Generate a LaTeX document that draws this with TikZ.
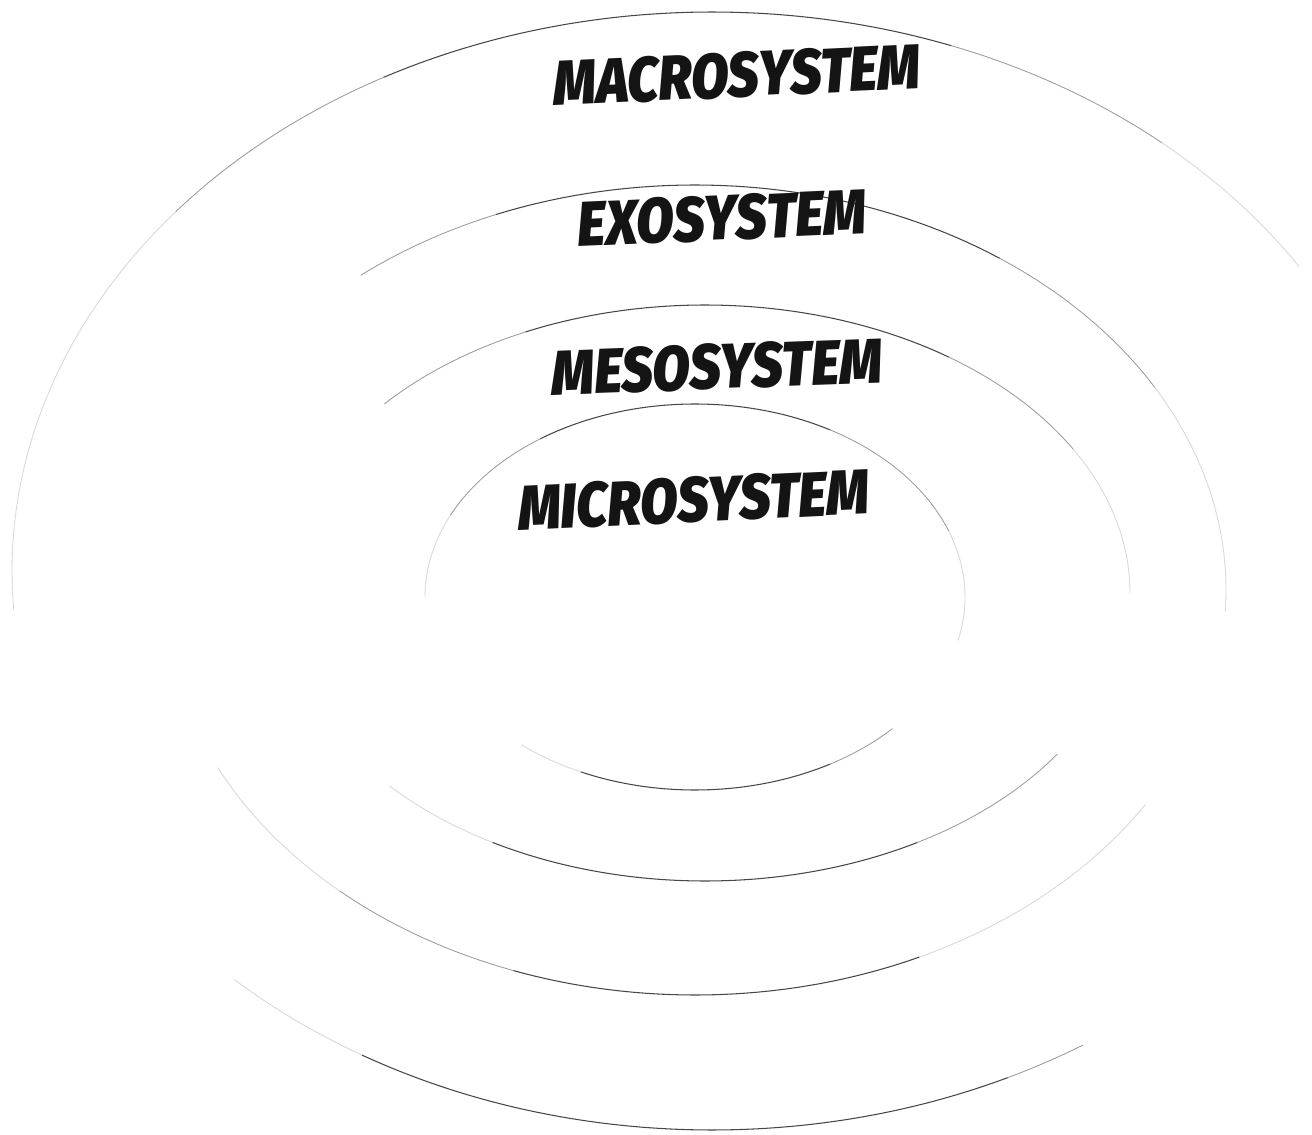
\documentclass[tikz,border=0pt]{standalone}
\usepackage{fontspec}
\newfontfamily\labfont{Fira Sans}[BoldItalicFont={Fira Sans Black Italic}]
\begin{document}
\begin{tikzpicture}[x=0.02cm,y=0.02cm,
  dk/.style={draw=black!72,line width=0.6pt},
  md/.style={draw=black!38,line width=0.5pt},
  lt/.style={draw=black!15,line width=0.5pt},
  lab/.style={font=\labfont\bfseries\itshape\fontsize{36}{40}\selectfont,xscale=0.86,inner sep=0pt,text=black!92}]
\fill[white] (0,0) rectangle (1312,1134);
\useasboundingbox (0,0) rectangle (1312,1134);
% helper: arc of ellipse centre (#1,#2) radii #3,#4 from #5 to #6 deg
\newcommand\ringarc[7]{\draw[#7] plot[smooth,variable=\t,domain=#5:#6,samples=40] ({#1+#3*cos(\t)},{#2+#4*sin(\t)});}
% MICRO  c(695,537) 270x193
\ringarc{695}{537}{270}{193}{-13}{20}{lt}
\ringarc{695}{537}{270}{193}{20}{60}{md}
\ringarc{695}{537}{270}{193}{60}{125}{dk}
\ringarc{695}{537}{270}{193}{125}{155}{md}
\ringarc{695}{537}{270}{193}{155}{180}{lt}
\ringarc{695}{537}{270}{193}{230}{245}{lt}
\ringarc{695}{537}{270}{193}{245}{300}{dk}
\ringarc{695}{537}{270}{193}{300}{317}{md}
% MESO c(705,541) 425x288
\ringarc{705}{541}{425}{288}{0}{30}{lt}
\ringarc{705}{541}{425}{288}{30}{55}{md}
\ringarc{705}{541}{425}{288}{55}{115}{dk}
\ringarc{705}{541}{425}{288}{115}{139}{md}
\ringarc{705}{541}{425}{288}{222}{240}{lt}
\ringarc{705}{541}{425}{288}{240}{300}{dk}
\ringarc{705}{541}{425}{288}{300}{326}{md}
% EXO c(695,544) 531x405
\ringarc{695}{544}{531}{405}{-3}{30}{lt}
\ringarc{695}{544}{531}{405}{30}{55}{md}
\ringarc{695}{544}{531}{405}{55}{112}{dk}
\ringarc{695}{544}{531}{405}{112}{129}{md}
\ringarc{695}{544}{531}{405}{206}{228}{lt}
\ringarc{695}{544}{531}{405}{228}{250}{md}
\ringarc{695}{544}{531}{405}{250}{295}{dk}
\ringarc{695}{544}{531}{405}{295}{328}{lt}
% MACRO c(712,563) 700x559
\ringarc{712}{563}{700}{559}{33}{50}{lt}
\ringarc{712}{563}{700}{559}{50}{70}{md}
\ringarc{712}{563}{700}{559}{70}{118}{dk}
\ringarc{712}{563}{700}{559}{118}{140}{md}
\ringarc{712}{563}{700}{559}{140}{184}{lt}
\ringarc{712}{563}{700}{559}{227}{240}{lt}
\ringarc{712}{563}{700}{559}{240}{295}{dk}
\ringarc{712}{563}{700}{559}{295}{302}{md}
% labels
\node[lab,rotate=2.3] (macro) at (737,1059) {MACROSYSTEM};
\node[lab,rotate=2.2] (exo) at (722,916) {EXOSYSTEM};
\node[lab,rotate=1.8] (meso) at (717,767) {MESOSYSTEM};
\node[lab,rotate=2.3] (micro) at (694,634) {MICROSYSTEM};
\end{tikzpicture}
\end{document}
